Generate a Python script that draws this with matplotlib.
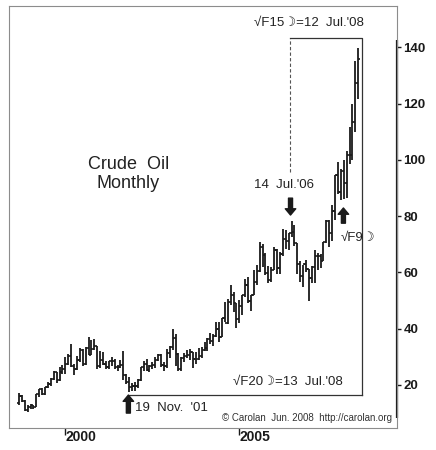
import matplotlib
matplotlib.use("Agg")
import matplotlib.pyplot as plt
import matplotlib.transforms as mtransforms
import pandas as pd

plt.rcParams['font.family'] = ['Liberation Sans', 'DejaVu Sans']

# monthly crude oil bars, Sep 1998 .. Jun 2008
start_month = '1998-09-01'
opens = [13.5, 16.1, 14.4, 11.2,
         12.1, 12.8, 12.3, 16.8, 18.7, 16.8, 19.3, 20.5, 22.1, 24.5, 21.8, 24.6,
         25.6, 27.6, 30.4, 26.9, 25.7, 29.0, 32.5, 27.4, 33.1, 30.8, 32.7, 33.8,
         26.8, 28.7, 27.4, 26.3, 28.5, 28.4, 26.3, 26.4, 27.2, 23.4, 21.2, 19.4,
         19.8, 19.5, 21.7, 26.3, 27.3, 25.3, 26.9, 27.0, 29.0, 30.5, 27.2, 26.9,
         31.2, 33.5, 36.6, 31.0, 25.8, 29.6, 30.2, 30.5, 31.6, 29.2, 29.1, 30.4,
         32.5, 33.1, 36.2, 35.8, 37.4, 39.9, 37.1, 43.8, 42.1, 49.6, 51.8, 49.1,
         43.5, 48.2, 51.8, 55.4, 49.7, 52.0, 56.5, 60.6, 68.9, 66.2, 59.8, 57.3,
         61.0, 67.9, 61.4, 66.6, 71.9, 71.3, 73.9, 74.4, 70.3, 62.9, 58.7, 63.1,
         61.1, 58.1, 61.8, 65.9, 65.7, 64.0, 70.7, 78.2, 74.0, 81.7, 94.5, 88.7,
         96.0, 91.8, 101.8, 101.6, 113.5, 127.4]
highs = [17.0, 16.4, 14.6, 13.0,
         13.2, 12.9, 16.9, 18.7, 19.0, 19.4, 21.0, 22.6, 25.0, 24.6, 26.4, 27.0,
         30.0, 31.0, 34.4, 27.5, 30.3, 33.0, 32.9, 33.4, 37.2, 36.0, 36.2, 34.0,
         32.2, 31.6, 28.5, 28.6, 29.8, 29.2, 27.2, 28.9, 32.0, 23.9, 22.7, 20.6,
         20.9, 22.1, 26.5, 28.4, 29.4, 27.1, 28.2, 30.1, 31.0, 31.1, 28.3, 32.7,
         34.0, 40.0, 38.0, 31.5, 30.0, 31.5, 32.4, 32.8, 31.6, 31.8, 33.0, 33.5,
         35.2, 36.7, 38.4, 38.2, 42.3, 42.3, 43.8, 49.4, 50.5, 55.7, 53.1, 49.3,
         50.2, 52.1, 57.6, 58.3, 52.1, 60.9, 62.5, 70.9, 70.0, 67.0, 62.2, 61.9,
         69.2, 68.3, 67.2, 75.4, 75.0, 74.0, 78.4, 77.0, 70.4, 64.0, 62.5, 64.3,
         61.2, 62.2, 68.1, 66.9, 66.6, 70.7, 78.8, 78.8, 83.9, 94.7, 99.3, 96.8,
         100.1, 103.0, 111.8, 119.9, 135.1, 139.9]
lows = [13.0, 13.8, 10.9, 10.4,
        11.5, 11.3, 12.0, 15.6, 16.4, 16.6, 18.9, 19.8, 21.8, 20.7, 21.5, 24.0,
        24.0, 27.0, 26.5, 23.7, 25.4, 28.0, 26.9, 27.2, 30.6, 30.5, 32.4, 25.5,
        26.0, 27.1, 25.6, 25.5, 26.8, 25.5, 25.1, 25.9, 21.8, 20.3, 17.5, 17.9,
        17.9, 18.9, 21.5, 24.9, 25.0, 24.5, 25.8, 26.2, 28.6, 26.4, 25.0, 26.1,
        29.5, 32.5, 26.9, 25.0, 25.0, 28.0, 29.5, 28.8, 26.0, 27.6, 28.8, 29.6,
        32.2, 32.2, 34.6, 33.9, 37.0, 35.4, 37.0, 42.3, 41.6, 48.3, 45.8, 40.3,
        42.1, 45.0, 51.2, 49.2, 46.2, 51.8, 55.4, 60.1, 62.1, 59.2, 56.1, 56.6,
        60.9, 59.3, 59.6, 66.0, 68.3, 68.0, 72.5, 69.5, 59.5, 56.5, 54.9, 60.3,
        49.9, 56.1, 56.3, 61.0, 61.4, 64.0, 70.4, 69.0, 71.1, 78.6, 88.0, 85.9,
        86.1, 86.5, 98.7, 100.1, 109.9, 121.6]
closes = [16.1, 14.4, 11.2, 12.1,
          12.8, 12.3, 16.8, 18.7, 16.8, 19.3, 20.5, 22.1, 24.5, 21.8, 24.6, 25.6,
          27.6, 30.4, 26.9, 25.7, 29.0, 32.5, 27.4, 33.1, 30.8, 32.7, 33.8, 26.8,
          28.7, 27.4, 26.3, 28.5, 28.4, 26.3, 26.4, 27.2, 23.4, 21.2, 19.4, 19.8,
          19.5, 21.7, 26.3, 27.3, 25.3, 26.9, 27.0, 29.0, 30.5, 27.2, 26.9, 31.2,
          33.5, 36.6, 31.0, 25.8, 29.6, 30.2, 30.5, 31.6, 29.2, 29.1, 30.4, 32.5,
          33.1, 36.2, 35.8, 37.4, 39.9, 37.1, 43.8, 42.1, 49.6, 51.8, 49.1, 43.5,
          48.2, 51.8, 55.4, 49.7, 52.0, 56.5, 60.6, 68.9, 66.2, 59.8, 57.3, 61.0,
          67.9, 61.4, 66.6, 71.9, 71.3, 73.9, 74.4, 70.3, 62.9, 58.7, 63.1, 61.1,
          58.1, 61.8, 65.9, 65.7, 64.0, 70.7, 78.2, 74.0, 81.7, 94.5, 88.7, 96.0,
          91.8, 101.8, 101.6, 113.5, 127.4, 136.0]

year_ticks = [2000, 2005]
price_ticks = [20, 40, 60, 80, 100, 120, 140]

dates = pd.date_range(start_month, periods=len(closes), freq='MS')
x = dates.year + (dates.month - 1) / 12.0

dark = '#1a1a1a'
fig = plt.figure(figsize=(4.36, 4.5), dpi=100)
ax = fig.add_axes([9 / 436, 1 - 428 / 450, 388 / 436, 422 / 450])
ax.set_xlim(1998.38, 2009.53)
ax.set_ylim(4.7, 154.7)

# OHLC bars
w = 0.045
ax.vlines(x, lows, highs, color=dark, lw=1.3)
ax.hlines(opens, x - w, x, color=dark, lw=1.2)
ax.hlines(closes, x, x + w, color=dark, lw=1.2)

# frame and right axis
for s in ax.spines.values():
    s.set_color('#8c8c8c')
    s.set_linewidth(0.8)
trans = mtransforms.blended_transform_factory(ax.transAxes, ax.transData)
ax.plot([1, 1], [8.3, 142.6], transform=trans, color=dark, lw=1.6,
        clip_on=False, solid_capstyle='butt')

ax.yaxis.tick_right()
ax.set_yticks(price_ticks)
ax.set_yticklabels([str(v) for v in price_ticks], fontweight='bold')
ax.tick_params(axis='y', length=3, width=1, color=dark, labelsize=9.5,
               pad=1.5, labelcolor=dark)
ax.set_xticks(year_ticks)
ax.set_xticklabels([str(v) for v in year_ticks], fontweight='bold', ha='left')
ax.tick_params(axis='x', length=5, width=1, color=dark, labelsize=10,
               pad=-3.3, labelcolor=dark)

# time / price box
box_col = '#333333'
ax.plot([2006.46, 2006.46], [95.7, 143.4], color='#555555', lw=0.8,
        dashes=(3, 2))
ax.plot([2006.46, 2008.52, 2008.52], [143.4, 143.4, 16.4], color=box_col, lw=0.9)
ax.plot([2001.8, 2008.52], [16.4, 16.4], color=box_col, lw=0.9)

txt = dict(color='#222222', fontsize=9.5)
ax.text(2006.99, 148.8, '\u221aF15\u263d=12  Jul.\'08', ha='center', va='center', **txt)
ax.text(2006.39, 21.2, '\u221aF20\u263d=13  Jul.\'08', ha='center', va='center', **txt)
ax.text(2008.41, 72.4, '\u221aF9\u263d', ha='center', va='center', **txt)
ax.text(2006.28, 91.1, '14  Jul.\'06', ha='center', va='center', **txt)
ax.text(2002.0, 11.8, '19  Nov.  \'01', ha='left', va='center', **txt)
ax.text(2001.81, 95.0, 'Crude  Oil\nMonthly', ha='center', va='center',
        color='#222222', fontsize=13, linespacing=1.1)
ax.text(2009.39, 8.1, '\u00a9 Carolan  Jun. 2008  http://carolan.org',
        ha='right', va='center', color='#333333', fontsize=7)

# arrows
arrow = dict(facecolor=dark, edgecolor=dark, width=2.9, headwidth=7.5,
             headlength=4.5, shrink=0)
ax.annotate('', xy=(2006.47, 80.4), xytext=(2006.47, 86.4), arrowprops=arrow)
ax.annotate('', xy=(2007.99, 82.9), xytext=(2007.99, 77.5), arrowprops=arrow)
ax.annotate('', xy=(2001.81, 16.4), xytext=(2001.81, 10.0), arrowprops=arrow)

fig.savefig('out.png', dpi=100, facecolor='white')
